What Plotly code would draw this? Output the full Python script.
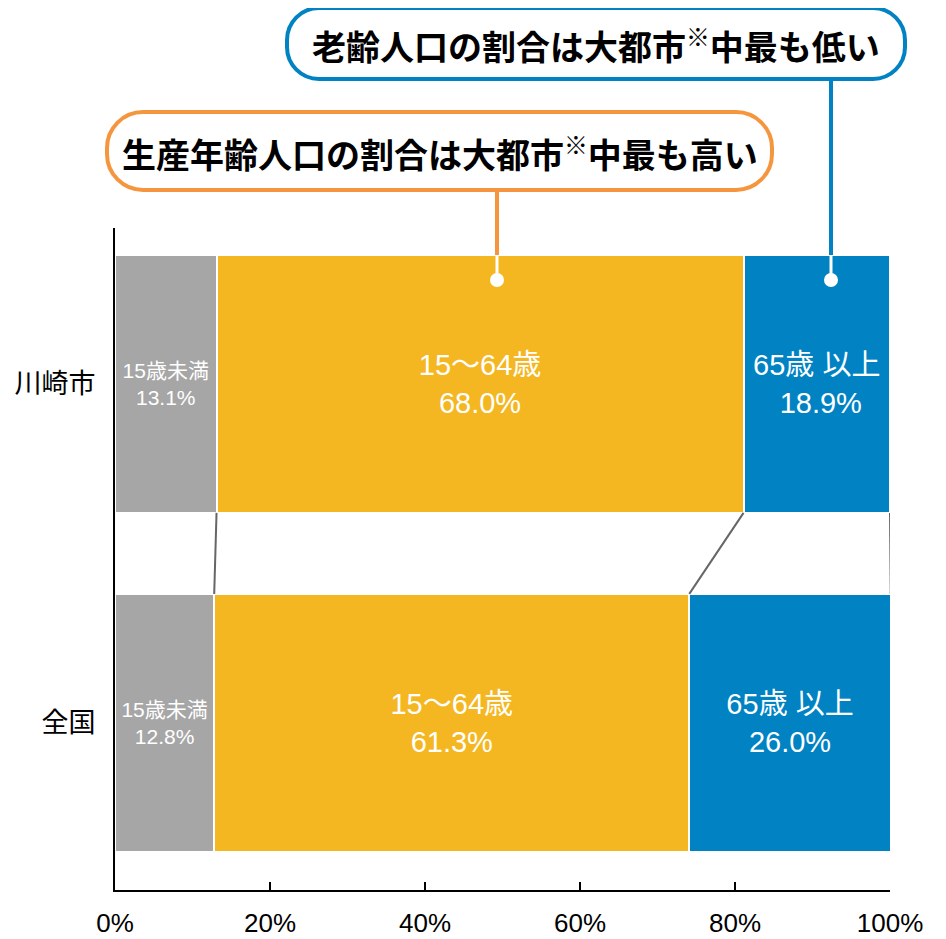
import plotly.graph_objects as go
import numpy as np

categories = ["全国", "川崎市"]
under15 = [12.8, 13.1]
working = [61.3, 68.0]
over65 = [26.0, 18.9]
labels_u15 = ["15歳未満", "15歳未満"]
labels_work = ["15～64歳", "15～64歳"]
labels_o65 = ["65歳 以上", "65歳 以上"]
xticks = [0, 20, 40, 60, 80, 100]
xticklabels = ["0%", "20%", "40%", "60%", "80%", "100%"]
callout_work = "生産年齢人口の割合は大都市<sup>※</sup>中最も高い"
callout_old = "老齢人口の割合は大都市<sup>※</sup>中最も低い"

GRAY = "#A6A6A6"
YELLOW = "#F4B722"
BLUE = "#0082C3"
ORANGE = "#F5963F"
FONT = "Liberation Sans, Noto Sans CJK JP, sans-serif"
BW = 0.761

ypos = list(range(len(categories)))

fig = go.Figure()
series = [
    (under15, labels_u15, GRAY, 21),
    (working, labels_work, YELLOW, 29),
    (over65, labels_o65, BLUE, 29),
]
for vals, labs, col, fs in series:
    txt = []
    for i, (v, l) in enumerate(zip(vals, labs)):
        pre = " " if (col == BLUE and categories[i] == "川崎市") else ""
        txt.append(f"{l}<br>{pre}{v:.1f}%")
    fig.add_trace(go.Bar(
        x=vals, y=ypos, orientation="h", width=BW,
        marker=dict(color=col, line=dict(color="white", width=2)),
        text=txt, textposition="inside", insidetextanchor="middle",
        textangle=0, constraintext="none",
        textfont=dict(color="white", size=fs, family=FONT),
        hoverinfo="skip", showlegend=False,
    ))

# connector lines between bars
cum = np.cumsum(np.array([under15, working, over65]), axis=0)
top_i = categories.index("川崎市")
bot_i = categories.index("全国")
for k in range(cum.shape[0]):
    fig.add_trace(go.Scatter(
        x=[cum[k, top_i], cum[k, bot_i]],
        y=[top_i - BW / 2, bot_i + BW / 2],
        mode="lines", line=dict(color="#666666", width=2),
        hoverinfo="skip", showlegend=False,
    ))

# page offset (body margin of the html page)
OFF = 8
L, R, T, B = 115, 890, 228, 890
PW, PH = 946, 939
W, H = PW - OFF, PH - OFF


def px(x):
    return (x - L) / (R - L)


def py(y):
    return (B - y) / (B - T)


def stadium(x0, y0, x1, y1, r):
    k = 0.5523 * r
    pts = []
    pts.append(("M", [(x0 + r, y0)]))
    pts.append(("L", [(x1 - r, y0)]))
    pts.append(("C", [(x1 - r + k, y0), (x1, y0 + r - k), (x1, y0 + r)]))
    pts.append(("L", [(x1, y1 - r)]))
    pts.append(("C", [(x1, y1 - r + k), (x1 - r + k, y1), (x1 - r, y1)]))
    pts.append(("L", [(x0 + r, y1)]))
    pts.append(("C", [(x0 + r - k, y1), (x0, y1 - r + k), (x0, y1 - r)]))
    pts.append(("L", [(x0, y0 + r)]))
    pts.append(("C", [(x0, y0 + r - k), (x0 + r - k, y0), (x0 + r, y0)]))
    s = ""
    for cmd, ps in pts:
        s += cmd + " " + " ".join(f"{px(a):.5f},{py(b):.5f}" for a, b in ps) + " "
    return s + "Z"


shapes = []
# orange callout
shapes.append(dict(type="path", xref="paper", yref="paper",
                   path=stadium(107, 112, 772, 190, 36),
                   line=dict(color=ORANGE, width=4), fillcolor="white"))
shapes.append(dict(type="line", xref="paper", yref="paper",
                   x0=px(497), x1=px(497), y0=py(190), y1=py(255),
                   line=dict(color=ORANGE, width=4)))
shapes.append(dict(type="line", xref="paper", yref="paper",
                   x0=px(497), x1=px(497), y0=py(255), y1=py(280),
                   line=dict(color="white", width=3)))
shapes.append(dict(type="circle", xref="paper", yref="paper",
                   x0=px(490), x1=px(504), y0=py(273), y1=py(287),
                   line=dict(color="white", width=0), fillcolor="white"))
# blue callout
shapes.append(dict(type="path", xref="paper", yref="paper",
                   path=stadium(287, 8, 905, 79, 32),
                   line=dict(color=BLUE, width=4), fillcolor="white"))
shapes.append(dict(type="line", xref="paper", yref="paper",
                   x0=px(831), x1=px(831), y0=py(79), y1=py(255),
                   line=dict(color=BLUE, width=4)))
shapes.append(dict(type="line", xref="paper", yref="paper",
                   x0=px(831), x1=px(831), y0=py(255), y1=py(280),
                   line=dict(color="white", width=3)))
shapes.append(dict(type="circle", xref="paper", yref="paper",
                   x0=px(824), x1=px(838), y0=py(273), y1=py(287),
                   line=dict(color="white", width=0), fillcolor="white"))

annotations = [
    dict(xref="paper", yref="paper", x=px(439.5), y=py(152), text=f"<b>{callout_work}</b>",
         showarrow=False, xanchor="center", yanchor="middle",
         font=dict(size=34, color="black", family="Noto Sans CJK JP, sans-serif")),
    dict(xref="paper", yref="paper", x=px(596), y=py(44), text=f"<b>{callout_old}</b>",
         showarrow=False, xanchor="center", yanchor="middle",
         font=dict(size=34, color="black", family="Noto Sans CJK JP, sans-serif")),
]

fig.update_layout(
    barmode="stack",
    width=W, height=H,
    margin=dict(l=L - OFF, r=PW - R, t=T - OFF, b=PH - B, pad=0, autoexpand=False),
    plot_bgcolor="white", paper_bgcolor="white",
    shapes=shapes, annotations=annotations,
    showlegend=False,
    xaxis=dict(range=[0, 100], tickvals=xticks, ticktext=xticklabels,
               ticks="inside", ticklen=8, tickwidth=2, tickcolor="black",
               showline=True, linecolor="black", linewidth=2, automargin=False,
               showgrid=False, zeroline=False, ticklabelstandoff=9,
               tickfont=dict(size=26, color="black", family="Liberation Sans, Arial, sans-serif")),
    yaxis=dict(range=[-0.493, 1.46], tickvals=ypos, ticktext=categories,
               showline=True, linecolor="black", linewidth=2, automargin=False,
               showgrid=False, zeroline=False, ticks="", ticklabelstandoff=12,
               tickfont=dict(size=27, color="black", family="Noto Sans CJK JP, sans-serif")),
)

fig.write_html("out.html")
